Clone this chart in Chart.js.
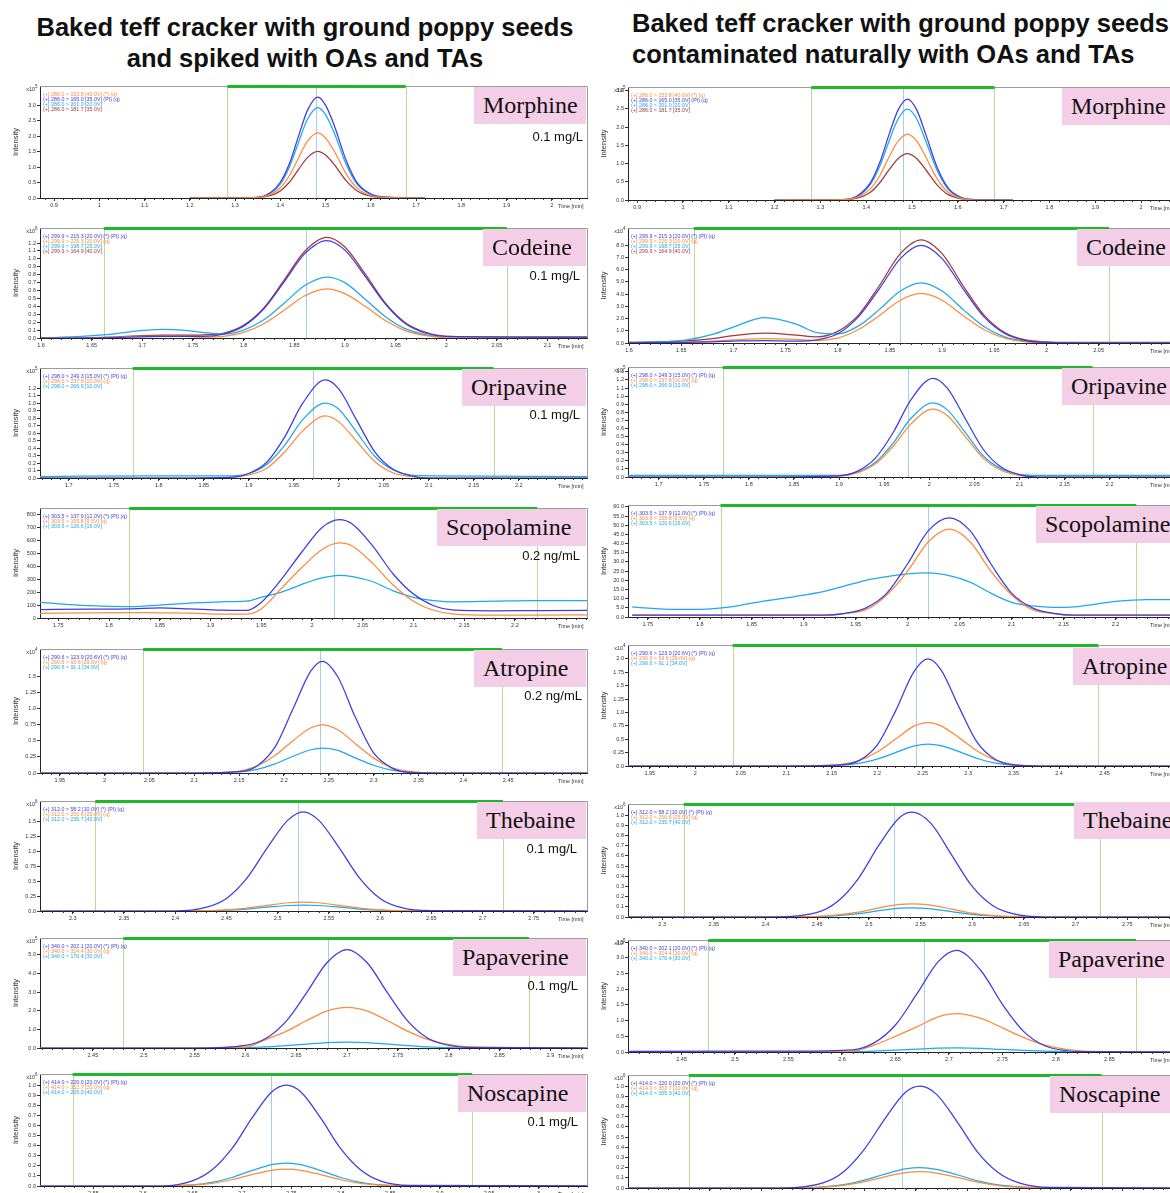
<!DOCTYPE html>
<html><head><meta charset="utf-8">
<script src="https://cdn.jsdelivr.net/npm/chart.js@4.4.1/dist/chart.umd.min.js"></script>
<style>
html,body{margin:0;padding:0;background:#fff;}
body{width:1170px;height:1193px;overflow:hidden;position:relative;font-family:"Liberation Sans",Arial,sans-serif;}
.title{position:absolute;font-weight:bold;font-size:25.5px;color:#111;line-height:31px;white-space:nowrap;}
.name{position:absolute;background:#f4cde6;font-family:"Liberation Serif","Times New Roman",serif;font-size:24px;color:#111;height:37px;line-height:37px;padding-left:9px;box-sizing:border-box;white-space:nowrap;overflow:hidden;z-index:5;}
.conc{position:absolute;font-size:13px;color:#111;white-space:nowrap;z-index:5;transform:translate(-100%,-50%);}
canvas{position:absolute;}
</style></head>
<body>
<div class="title" style="left:0;width:610px;text-align:center;top:12px">Baked teff cracker with ground poppy seeds<br>and spiked with OAs and TAs</div>
<div class="title" style="left:632px;top:8px">Baked teff cracker with ground poppy seeds<br>contaminated naturally with OAs and TAs</div>
<script>
// ================= DATA =================
// S = spiked sample (left column), N = naturally contaminated sample (right column)
// Morphine
const MOR_labels = ["(+) 286.0 > 153.8 [40.0V] (*) (q)","(+) 286.0 > 165.0 [35.0V] (PI) (q)","(+) 286.0 > 201.0 [20.0V]","(+) 286.0 > 181.7 [35.0V]"];
const MOR_xticks = [0.9,1,1.1,1.2,1.3,1.4,1.5,1.6,1.7,1.8,1.9,2];
const MOR_S_yticks = [0,0.5,1,1.5,2,2.5,3];
const MOR_S_time = [1.20,1.34,1.37,1.40,1.42,1.44,1.46,1.483,1.50,1.52,1.545,1.57,1.60,1.63,1.72];
const MOR_S_153 = [0,0.01,0.07,0.33,0.72,1.29,1.84,2.11,1.94,1.50,0.80,0.32,0.08,0.02,0];
const MOR_S_165 = [0,0.01,0.10,0.51,1.11,1.99,2.84,3.27,3.01,2.32,1.24,0.49,0.13,0.03,0];
const MOR_S_201 = [0,0.01,0.09,0.45,1.00,1.79,2.55,2.93,2.70,2.08,1.11,0.44,0.12,0.03,0];
const MOR_S_181 = [0,0.01,0.05,0.23,0.51,0.92,1.31,1.51,1.39,1.07,0.57,0.23,0.06,0.02,0];
const MOR_S_marks = [1.283,1.677,1.48];
const MOR_N_yticks = [0,0.5,1,1.5,2,2.5,3];
const MOR_N_time = [1.20,1.35,1.38,1.41,1.43,1.45,1.47,1.49,1.51,1.53,1.555,1.58,1.61,1.64,1.72];
const MOR_N_153 = [0,0.01,0.07,0.32,0.68,1.18,1.62,1.81,1.62,1.18,0.58,0.20,0.04,0,0];
const MOR_N_165 = [0,0.01,0.11,0.49,1.04,1.80,2.48,2.77,2.48,1.80,0.89,0.31,0.06,0.01,0];
const MOR_N_201 = [0,0.01,0.09,0.44,0.94,1.62,2.23,2.49,2.23,1.62,0.80,0.28,0.05,0.01,0];
const MOR_N_181 = [0,0.01,0.05,0.22,0.48,0.83,1.14,1.27,1.14,0.83,0.41,0.14,0.03,0,0];
const MOR_N_marks = [1.28,1.68,1.48];
// Codeine
const COD_labels = ["(+) 299.9 > 215.3 [20.0V] (*) (PI) (q)","(+) 299.9 > 225.3 [20.0V] (q)","(+) 299.9 > 198.7 [25.0V]","(+) 299.9 > 164.9 [40.0V]"];
const COD_S_xticks = [1.6,1.65,1.7,1.75,1.8,1.85,1.9,1.95,2,2.05,2.1];
const COD_S_yticks = [0,0.1,0.2,0.3,0.4,0.5,0.6,0.7,0.8,0.9,1.0,1.1,1.2];
const COD_S_time = [1.60,1.64,1.67,1.70,1.72,1.74,1.76,1.78,1.80,1.82,1.84,1.86,1.882,1.90,1.92,1.94,1.96,1.98,2.00,2.14];
const COD_S_215 = [0,0,0.005,0.015,0.02,0.02,0.02,0.05,0.15,0.37,0.71,1.06,1.23,1.11,0.78,0.43,0.18,0.06,0.02,0.01];
const COD_S_225 = [0,0,0.01,0.02,0.02,0.02,0.01,0.02,0.07,0.18,0.35,0.53,0.62,0.56,0.40,0.22,0.09,0.03,0.01,0.01];
const COD_S_198 = [0,0.02,0.05,0.095,0.11,0.10,0.07,0.05,0.10,0.23,0.44,0.66,0.77,0.70,0.49,0.27,0.115,0.04,0.01,0.01];
const COD_S_164 = [0,0,0.01,0.03,0.035,0.035,0.04,0.06,0.16,0.38,0.73,1.09,1.27,1.15,0.81,0.44,0.19,0.07,0.02,0.01];
const COD_S_marks = [1.662,2.06,1.862];
const COD_N_xticks = [1.6,1.65,1.7,1.75,1.8,1.85,1.9,1.95,2,2.05];
const COD_N_yticks = [0,1,2,3,4,5,6,7,8];
const COD_N_time = [1.60,1.65,1.68,1.70,1.73,1.76,1.78,1.80,1.82,1.84,1.86,1.88,1.90,1.92,1.94,1.96,1.98,2.00,2.02,2.13];
const COD_N_215 = [0.02,0.05,0.1,0.15,0.2,0.15,0.25,0.75,2.15,4.45,6.9,7.97,6.9,4.45,2.15,0.77,0.2,0.05,0.02,0.02];
const COD_N_225 = [0.02,0.05,0.15,0.25,0.35,0.3,0.2,0.4,1.1,2.25,3.5,4.05,3.5,2.25,1.1,0.4,0.1,0.05,0.02,0.02];
const COD_N_198 = [0.05,0.2,0.7,1.3,2.08,1.55,0.85,0.75,1.4,2.75,4.25,4.92,4.25,2.75,1.35,0.5,0.15,0.05,0.02,0.02];
const COD_N_164 = [0.05,0.15,0.35,0.6,0.8,0.65,0.5,0.95,2.3,4.7,7.3,8.43,7.3,4.7,2.3,0.85,0.25,0.1,0.05,0.05];
const COD_N_marks = [1.662,2.06,1.86];
// Oripavine
const ORI_labels = ["(+) 298.0 > 249.3 [15.0V] (*) (PI) (q)","(+) 298.0 > 237.8 [10.0V] (q)","(+) 298.0 > 266.9 [10.0V]"];
const ORI_xticks = [1.7,1.75,1.8,1.85,1.9,1.95,2,2.05,2.1,2.15,2.2];
const ORI_S_yticks = [0,0.1,0.2,0.3,0.4,0.5,0.6,0.7,0.8,0.9,1.0,1.1,1.2];
const ORI_S_time = [1.668,1.80,1.88,1.90,1.92,1.94,1.96,1.985,2.00,2.02,2.04,2.06,2.08,2.10,2.277];
const ORI_S_249 = [0,0,0.01,0.06,0.21,0.55,1.0,1.31,1.19,0.77,0.35,0.12,0.03,0,0];
const ORI_S_237 = [0,0,0.01,0.04,0.13,0.35,0.63,0.83,0.75,0.49,0.22,0.07,0.02,0,0];
const ORI_S_266 = [0.02,0.03,0.03,0.06,0.18,0.44,0.78,1.0,0.92,0.61,0.29,0.11,0.04,0.03,0.02];
const ORI_S_marks = [1.771,2.172,1.971];
const ORI_N_yticks = [0,0.1,0.2,0.3,0.4,0.5,0.6,0.7,0.8,0.9,1.0,1.1,1.2,1.3];
const ORI_N_time = [1.666,1.80,1.90,1.92,1.94,1.96,1.98,2.004,2.02,2.04,2.06,2.08,2.10,2.12,2.278];
const ORI_N_249 = [0,0,0.015,0.07,0.23,0.55,0.96,1.22,1.10,0.72,0.34,0.12,0.03,0,0];
const ORI_N_237 = [0,0,0.01,0.05,0.16,0.38,0.66,0.84,0.76,0.50,0.23,0.08,0.02,0,0];
const ORI_N_266 = [0.02,0.02,0.02,0.06,0.18,0.42,0.73,0.915,0.83,0.55,0.26,0.10,0.03,0.02,0.02];
const ORI_N_marks = [1.771,2.181,1.976];
// Scopolamine
const SCO_labels = ["(+) 303.5 > 137.9 [12.0V] (*) (PI) (q)","(+) 303.5 > 155.8 [9.5V] (q)","(+) 303.5 > 120.6 [16.0V]"];
const SCO_xticks = [1.75,1.8,1.85,1.9,1.95,2,2.05,2.1,2.15,2.2];
const SCO_S_yticks = [0,100,200,300,400,500,600,700,800];
const SCO_S_time = [1.732,1.78,1.82,1.85,1.88,1.91,1.935,1.95,1.97,1.99,2.01,2.027,2.04,2.06,2.08,2.10,2.12,2.14,2.18,2.22,2.272];
const SCO_S_137 = [65,68,70,78,70,60,58,120,300,510,700,760,725,555,340,185,95,60,55,57,60];
const SCO_S_155 = [35,40,42,40,38,30,30,70,230,390,530,580,555,420,255,130,60,30,22,22,25];
const SCO_S_120 = [120,95,88,100,115,125,130,160,200,260,310,330,320,280,210,160,135,125,130,135,135];
const SCO_S_marks = [1.82,2.222,2.022];
const SCO_N_yticks = [0,5,10,15,20,25,30,35,40,45,50,55,60];
const SCO_N_time = [1.735,1.77,1.80,1.83,1.86,1.89,1.92,1.94,1.96,1.98,2.00,2.02,2.04,2.06,2.08,2.10,2.12,2.14,2.16,2.20,2.23,2.262];
const SCO_N_137 = [1,1,1,1,1,1,1,2,5,13,29,47,54,47,29,13,5,2,1,1,1,1];
const SCO_N_155 = [1,1,1,1,1,1,1,2,4,12,25,41,47.8,41,25,12,4,2,1,1,1,1];
const SCO_N_120 = [5.5,4.2,4.2,5.5,8.5,11,14,17,20,22,23.5,24,22.5,19,13,8,6,5.2,5.5,8.5,9.5,9.5];
const SCO_N_marks = [1.82,2.22,2.02];
// Atropine
const ATR_labels = ["(+) 290.6 > 123.9 [20.6V] (*) (PI) (q)","(+) 290.6 > 93.6 [29.0V] (q)","(+) 290.6 > 91.1 [34.0V]"];
const ATR_xticks = [1.95,2,2.05,2.1,2.15,2.2,2.25,2.3,2.35,2.4,2.45];
const ATR_S_yticks = [0,0.25,0.5,0.75,1.0,1.25,1.5];
const ATR_S_time = [1.928,2.10,2.15,2.17,2.19,2.21,2.23,2.243,2.26,2.28,2.30,2.32,2.34,2.37,2.539];
const ATR_S_123 = [0,0,0.02,0.11,0.40,0.99,1.58,1.73,1.49,0.85,0.31,0.08,0.01,0,0];
const ATR_S_93 = [0,0,0.03,0.11,0.27,0.50,0.70,0.745,0.67,0.45,0.23,0.085,0.024,0,0];
const ATR_S_91 = [0,0,0.017,0.055,0.14,0.26,0.36,0.385,0.35,0.23,0.12,0.044,0.012,0,0];
const ATR_S_marks = [2.043,2.443,2.24];
const ATR_N_yticks = [0,0.25,0.5,0.75,1.0,1.25,1.5,1.75,2.0];
const ATR_N_time = [1.926,2.10,2.16,2.18,2.20,2.22,2.24,2.256,2.27,2.29,2.31,2.33,2.35,2.38,2.533];
const ATR_N_123 = [0,0,0.02,0.10,0.39,1.02,1.75,2.0,1.80,1.10,0.44,0.12,0.02,0,0];
const ATR_N_93 = [0,0,0.03,0.10,0.26,0.50,0.74,0.81,0.75,0.53,0.28,0.11,0.03,0,0];
const ATR_N_91 = [0,0,0.014,0.05,0.13,0.25,0.37,0.41,0.38,0.27,0.14,0.055,0.016,0,0];
const ATR_N_marks = [2.041,2.443,2.243];
// Thebaine
const THE_labels = ["(+) 312.0 > 58.2 [10.0V] (*) (PI) (q)","(+) 312.0 > 250.6 [25.0V] (q)","(+) 312.0 > 235.7 [40.0V]"];
const THE_xticks = [2.3,2.35,2.4,2.45,2.5,2.55,2.6,2.65,2.7,2.75];
const THE_S_yticks = [0,0.25,0.5,0.75,1.0,1.25,1.5];
const THE_S_time = [2.268,2.40,2.43,2.45,2.47,2.49,2.51,2.525,2.54,2.56,2.58,2.60,2.62,2.65,2.803];
const THE_S_58 = [0,0,0.06,0.21,0.55,1.06,1.52,1.66,1.52,1.06,0.55,0.21,0.06,0.005,0];
const THE_S_250 = [0,0,0.006,0.02,0.05,0.096,0.138,0.15,0.138,0.096,0.05,0.02,0.006,0,0];
const THE_S_235 = [0,0,0.004,0.013,0.033,0.064,0.092,0.10,0.092,0.064,0.033,0.013,0.004,0,0];
const THE_S_marks = [2.322,2.72,2.52];
const THE_N_yticks = [0,0.1,0.2,0.3,0.4,0.5,0.6,0.7,0.8,0.9,1.0];
const THE_N_time = [2.267,2.40,2.45,2.47,2.49,2.51,2.53,2.542,2.56,2.58,2.60,2.62,2.64,2.67,2.801];
const THE_N_58 = [0,0,0.046,0.155,0.38,0.71,0.98,1.03,0.92,0.61,0.30,0.11,0.03,0,0];
const THE_N_250 = [0,0,0.006,0.02,0.048,0.09,0.124,0.13,0.116,0.077,0.038,0.014,0.004,0,0];
const THE_N_235 = [0,0,0.004,0.014,0.033,0.062,0.086,0.09,0.08,0.053,0.026,0.01,0.003,0,0];
const THE_N_marks = [2.321,2.724,2.524];
// Papaverine
const PAP_labels = ["(+) 340.0 > 202.1 [20.0V] (*) (PI) (q)","(+) 340.0 > 324.4 [30.0V] (q)","(+) 340.0 > 170.4 [30.0V]"];
const PAP_S_xticks = [2.45,2.5,2.55,2.6,2.65,2.7,2.75,2.8,2.85,2.9];
const PAP_S_yticks = [0,1,2,3,4,5];
const PAP_S_time = [2.398,2.55,2.60,2.62,2.64,2.66,2.68,2.70,2.72,2.74,2.76,2.78,2.80,2.82,2.937];
const PAP_S_202 = [0,0,0.14,0.51,1.43,2.94,4.56,5.28,4.56,2.94,1.43,0.51,0.14,0.03,0];
const PAP_S_324 = [0,0,0.05,0.45,0.89,1.46,1.98,2.18,1.98,1.46,0.89,0.45,0.19,0.06,0];
const PAP_S_170 = [0,0,0.02,0.06,0.13,0.21,0.29,0.32,0.29,0.21,0.13,0.06,0.02,0,0];
const PAP_S_marks = [2.48,2.879,2.681];
const PAP_N_xticks = [2.45,2.5,2.55,2.6,2.65,2.7,2.75,2.8,2.85];
const PAP_N_yticks = [0,0.5,1.0,1.5,2.0,2.5,3.0,3.5];
const PAP_N_time = [2.40,2.55,2.61,2.63,2.65,2.67,2.69,2.707,2.73,2.75,2.77,2.79,2.81,2.83,2.916];
const PAP_N_202 = [0.02,0.03,0.07,0.29,0.86,1.85,2.88,3.24,2.59,1.52,0.65,0.19,0.04,0.01,0];
const PAP_N_324 = [0,0,0.03,0.22,0.50,0.80,1.12,1.22,1.07,0.77,0.46,0.22,0.08,0.02,0];
const PAP_N_170 = [0,0,0.01,0.03,0.06,0.09,0.12,0.13,0.115,0.08,0.05,0.025,0.01,0,0];
const PAP_N_marks = [2.475,2.875,2.677];
// Noscapine
const NOS_labels = ["(+) 414.0 > 220.0 [20.0V] (*) (PI) (q)","(+) 414.0 > 352.7 [20.0V] (q)","(+) 414.0 > 205.3 [40.0V]"];
const NOS_S_xticks = [2.55,2.6,2.65,2.7,2.75,2.8,2.85,2.9,2.95,3];
const NOS_S_yticks = [0,0.1,0.2,0.3,0.4,0.5,0.6,0.7,0.8,0.9,1.0];
const NOS_S_time = [2.496,2.62,2.65,2.67,2.69,2.71,2.73,2.745,2.76,2.78,2.80,2.82,2.84,2.87,3.05];
const NOS_S_220 = [0,0,0.05,0.16,0.37,0.67,0.93,1.0,0.93,0.67,0.37,0.16,0.05,0.005,0];
const NOS_S_352 = [0,0,0.008,0.027,0.062,0.112,0.155,0.167,0.155,0.112,0.062,0.027,0.008,0,0];
const NOS_S_205 = [0,0,0.011,0.036,0.084,0.152,0.211,0.227,0.211,0.152,0.084,0.036,0.011,0,0];
const NOS_S_marks = [2.529,2.933,2.73];
const NOS_N_xticks = [2.55,2.6,2.65,2.7,2.75,2.8,2.85,2.9,2.95];
const NOS_N_yticks = [0,0.1,0.2,0.3,0.4,0.5,0.6,0.7,0.8,0.9,1.0];
const NOS_N_time = [2.471,2.62,2.66,2.68,2.70,2.72,2.74,2.754,2.77,2.79,2.81,2.83,2.85,2.88,3.006];
const NOS_N_220 = [0,0,0.05,0.16,0.38,0.68,0.94,1.0,0.92,0.65,0.35,0.15,0.05,0.005,0];
const NOS_N_352 = [0,0,0.009,0.026,0.062,0.11,0.15,0.16,0.147,0.104,0.057,0.024,0.008,0,0];
const NOS_N_205 = [0,0,0.011,0.033,0.077,0.137,0.188,0.2,0.184,0.13,0.071,0.03,0.01,0,0];
const NOS_N_marks = [2.53,2.93,2.737];

// ================= STYLE / LAYOUT =================
const COL = {b:'#3c3ce0', c:'#1ea8ee', o:'#ff8a3a', r:'#a23838'};
const LEFT = {l:40, r:588}, RIGHT = {l:628, r:1180};
const PANELS = [
 {c:LEFT, top:86, bot:198, x:[0.869,2.08], t:MOR_S_time, s:[[MOR_S_153,'o'],[MOR_S_165,'b'],[MOR_S_201,'c'],[MOR_S_181,'r']], lab:MOR_labels, xt:MOR_xticks, yt:MOR_S_yticks, ymax:3.63, mult:'5', mk:MOR_S_marks, name:'Morphine', box:[474,87], conc:['0.1 mg/L',583,136]},
 {c:RIGHT, top:87, bot:200, x:[0.88,2.085], t:MOR_N_time, s:[[MOR_N_153,'o'],[MOR_N_165,'b'],[MOR_N_201,'c'],[MOR_N_181,'r']], lab:MOR_labels, xt:MOR_xticks, yt:MOR_N_yticks, ymax:3.1, mult:'5', mk:MOR_N_marks, name:'Morphine', box:[1062,88]},
 {c:LEFT, top:228, bot:338, x:[1.599,2.14], t:COD_S_time, s:[[COD_S_215,'b'],[COD_S_225,'o'],[COD_S_198,'c'],[COD_S_164,'r']], lab:COD_labels, xt:COD_S_xticks, yt:COD_S_yticks, ymax:1.39, mult:'6', mk:COD_S_marks, name:'Codeine', box:[483,229], conc:['0.1 mg/L',580,275]},
 {c:RIGHT, top:228, bot:343, x:[1.599,2.128], t:COD_N_time, s:[[COD_N_215,'b'],[COD_N_225,'o'],[COD_N_198,'c'],[COD_N_164,'r']], lab:COD_labels, xt:COD_N_xticks, yt:COD_N_yticks, ymax:9.4, mult:'4', mk:COD_N_marks, name:'Codeine', box:[1077,229]},
 {c:LEFT, top:368, bot:478, x:[1.668,2.277], t:ORI_S_time, s:[[ORI_S_249,'b'],[ORI_S_237,'o'],[ORI_S_266,'c']], lab:ORI_labels, xt:ORI_xticks, yt:ORI_S_yticks, ymax:1.47, mult:'5', mk:ORI_S_marks, name:'Oripavine', box:[462,369], conc:['0.1 mg/L',580,414]},
 {c:RIGHT, top:367, bot:477, x:[1.666,2.278], t:ORI_N_time, s:[[ORI_N_249,'b'],[ORI_N_237,'o'],[ORI_N_266,'c']], lab:ORI_labels, xt:ORI_xticks, yt:ORI_N_yticks, ymax:1.36, mult:'5', mk:ORI_N_marks, name:'Oripavine', box:[1062,368]},
 {c:LEFT, top:508, bot:618, x:[1.732,2.272], t:SCO_S_time, s:[[SCO_S_137,'b'],[SCO_S_155,'o'],[SCO_S_120,'c']], lab:SCO_labels, xt:SCO_xticks, yt:SCO_S_yticks, ymax:850, mult:null, dec:0, mk:SCO_S_marks, name:'Scopolamine', box:[437,509], conc:['0.2 ng/mL',580,555]},
 {c:RIGHT, top:505, bot:617, x:[1.731,2.262], t:SCO_N_time, s:[[SCO_N_137,'b'],[SCO_N_155,'o'],[SCO_N_120,'c']], lab:SCO_labels, xt:SCO_xticks, yt:SCO_N_yticks, ymax:61, mult:null, mk:SCO_N_marks, name:'Scopolamine', box:[1036,506]},
 {c:LEFT, top:649, bot:773, x:[1.928,2.539], t:ATR_S_time, s:[[ATR_S_123,'b'],[ATR_S_93,'o'],[ATR_S_91,'c']], lab:ATR_labels, xt:ATR_xticks, yt:ATR_S_yticks, ymax:1.92, mult:'4', mk:ATR_S_marks, name:'Atropine', box:[474,650], conc:['0.2 ng/mL',582,695]},
 {c:RIGHT, top:645, bot:766, x:[1.926,2.533], t:ATR_N_time, s:[[ATR_N_123,'b'],[ATR_N_93,'o'],[ATR_N_91,'c']], lab:ATR_labels, xt:ATR_xticks, yt:ATR_N_yticks, ymax:2.26, mult:'4', mk:ATR_N_marks, name:'Atropine', box:[1073,648]},
 {c:LEFT, top:801, bot:911, x:[2.268,2.803], t:THE_S_time, s:[[THE_S_58,'b'],[THE_S_250,'o'],[THE_S_235,'c']], lab:THE_labels, xt:THE_xticks, yt:THE_S_yticks, ymax:1.84, mult:'6', mk:THE_S_marks, name:'Thebaine', box:[477,802], conc:['0.1 mg/L',577,848]},
 {c:RIGHT, top:804, bot:917, x:[2.267,2.801], t:THE_N_time, s:[[THE_N_58,'b'],[THE_N_250,'o'],[THE_N_235,'c']], lab:THE_labels, xt:THE_xticks, yt:THE_N_yticks, ymax:1.11, mult:'6', mk:THE_N_marks, name:'Thebaine', box:[1074,802]},
 {c:LEFT, top:938, bot:1048, x:[2.398,2.937], t:PAP_S_time, s:[[PAP_S_202,'b'],[PAP_S_324,'o'],[PAP_S_170,'c']], lab:PAP_labels, xt:PAP_S_xticks, yt:PAP_S_yticks, ymax:5.9, mult:'5', mk:PAP_S_marks, name:'Papaverine', box:[453,939], conc:['0.1 mg/L',578,985]},
 {c:RIGHT, top:940, bot:1052, x:[2.40,2.916], t:PAP_N_time, s:[[PAP_N_202,'b'],[PAP_N_324,'o'],[PAP_N_170,'c']], lab:PAP_labels, xt:PAP_N_xticks, yt:PAP_N_yticks, ymax:3.57, mult:'5', mk:PAP_N_marks, name:'Papaverine', box:[1049,941]},
 {c:LEFT, top:1074, bot:1186, x:[2.496,3.05], t:NOS_S_time, s:[[NOS_S_220,'b'],[NOS_S_352,'o'],[NOS_S_205,'c']], lab:NOS_labels, xt:NOS_S_xticks, yt:NOS_S_yticks, ymax:1.11, mult:'6', mk:NOS_S_marks, name:'Noscapine', box:[458,1075], conc:['0.1 mg/L',578,1121]},
 {c:RIGHT, top:1075, bot:1188, x:[2.471,3.006], t:NOS_N_time, s:[[NOS_N_220,'b'],[NOS_N_352,'o'],[NOS_N_205,'c']], lab:NOS_labels, xt:NOS_N_xticks, yt:NOS_N_yticks, ymax:1.11, mult:'6', mk:NOS_N_marks, name:'Noscapine', box:[1050,1076]}
];

Chart.defaults.font.family = '"Liberation Sans", Arial, sans-serif';
const FF = '"Liberation Sans", Arial, sans-serif';

const chrom = {
  id:'chrom',
  beforeDatasetsDraw(chart, args, o){
    const ctx = chart.ctx, a = chart.chartArea, x = chart.scales.x;
    ctx.save(); ctx.lineWidth = 1;
    const vline=(v,col)=>{const p=Math.round(x.getPixelForValue(v))+0.5; if(p<a.left||p>a.right) return; ctx.strokeStyle=col; ctx.beginPath(); ctx.moveTo(p,a.top); ctx.lineTo(p,a.bottom); ctx.stroke();};
    vline(o.mk[0],'#b9da95'); vline(o.mk[1],'#b9da95'); vline(o.mk[2],'#a6cdee');
    ctx.restore();
  },
  afterDatasetsDraw(chart, args, o){
    const ctx = chart.ctx, a = chart.chartArea, x = chart.scales.x;
    ctx.save();
    ctx.strokeStyle='#9c9c9c'; ctx.lineWidth=1;
    ctx.beginPath(); ctx.moveTo(a.left, a.top+0.5); ctx.lineTo(a.right-0.5, a.top+0.5); ctx.lineTo(a.right-0.5, a.bottom); ctx.stroke();
    const g1 = x.getPixelForValue(o.mk[0]), g2 = Math.min(x.getPixelForValue(o.mk[1]), a.right);
    ctx.fillStyle='#1fb82a'; ctx.fillRect(g1, a.top-1, g2-g1, 3);
    // minor ticks
    const step = (o.xt[1]-o.xt[0])/5;
    ctx.strokeStyle='#333';
    const i0 = Math.ceil((x.min-o.xt[0])/step), i1 = Math.floor((x.max-o.xt[0])/step);
    ctx.beginPath();
    for(let i=i0;i<=i1;i++){const p=Math.round(x.getPixelForValue(o.xt[0]+i*step))+0.5; ctx.moveTo(p,a.bottom); ctx.lineTo(p,a.bottom+2);}
    ctx.stroke();
    // legend texts
    ctx.font='5.3px '+FF; ctx.textBaseline='middle'; ctx.textAlign='left';
    chart.data.datasets.forEach((d,i)=>{ctx.fillStyle=d.borderColor; ctx.fillText(d.label, a.left+3, a.top+9+i*4.7);});
    ctx.fillStyle='#333';
    if(o.mult){ ctx.font='5.5px '+FF; ctx.textAlign='right'; ctx.fillText('x10', a.left-5, a.top+3); ctx.font='4.5px '+FF; ctx.textAlign='left'; ctx.fillText(o.mult, a.left-5, a.top+0.5); }
    ctx.save(); ctx.translate(a.left-24, (a.top+a.bottom)/2); ctx.rotate(-Math.PI/2);
    ctx.font='7.5px '+FF; ctx.textAlign='center'; ctx.fillText('Intensity',0,0); ctx.restore();
    ctx.font='5.5px '+FF; ctx.textAlign='left'; ctx.fillText('Time [min]', a.right-30, a.bottom+8);
    ctx.restore();
  }
};

function fmtY(dec){ return v => { if(dec===0) return String(Math.round(v)); const r=Math.round(v*100)/100; return (Math.abs(r*10-Math.round(r*10))<1e-9) ? r.toFixed(1) : String(r); }; }

PANELS.forEach(p=>{
  const W = p.c.r - p.c.l + 40, H = p.bot - p.top + 6 + 12;
  const cv = document.createElement('canvas');
  cv.width = W; cv.height = H;
  cv.style.left = (p.c.l-40)+'px'; cv.style.top = (p.top-6)+'px';
  cv.style.width = W+'px'; cv.style.height = H+'px';
  document.body.appendChild(cv);
  new Chart(cv, {
    type:'line',
    data:{datasets: p.s.map((s,i)=>({label:p.lab[i], data:p.t.map((tv,k)=>({x:tv,y:s[0][k]})), borderColor:COL[s[1]], borderWidth:1.25, pointRadius:0, fill:false, cubicInterpolationMode:'monotone'}))},
    options:{
      responsive:false, devicePixelRatio:1, animation:false, events:[],
      layout:{padding:{top:6,left:0,right:0,bottom:0}},
      plugins:{legend:{display:false}, tooltip:{enabled:false}, chrom:{mk:p.mk, xt:p.xt, mult:p.mult}},
      scales:{
        x:{type:'linear', min:p.x[0], max:p.x[1],
           afterBuildTicks:s=>{s.ticks=p.xt.map(v=>({value:v}));},
           afterFit:s=>{s.height=12;},
           ticks:{font:{size:5.5}, color:'#333', padding:1, maxRotation:0, autoSkip:false, callback:v=>String(+(+v).toFixed(2))},
           grid:{display:true, drawOnChartArea:false, tickLength:3, color:'#333'},
           border:{color:'#222'}},
        y:{type:'linear', min:0, max:p.ymax,
           afterBuildTicks:s=>{s.ticks=p.yt.map(v=>({value:v}));},
           afterFit:s=>{s.width=40;},
           ticks:{font:{size:5.5}, color:'#333', padding:1, autoSkip:false, callback:fmtY(p.dec===0?0:1)},
           grid:{display:true, drawOnChartArea:false, tickLength:3, color:'#333'},
           border:{color:'#222'}}
      }
    },
    plugins:[chrom]
  });
  const nb = document.createElement('div');
  nb.className='name'; nb.textContent=p.name;
  const rEdge = p.c===LEFT ? 586 : 1180;
  nb.style.left=p.box[0]+'px'; nb.style.top=p.box[1]+'px'; nb.style.width=(rEdge-p.box[0])+'px';
  document.body.appendChild(nb);
  if(p.conc){
    const cd=document.createElement('div'); cd.className='conc'; cd.textContent=p.conc[0];
    cd.style.left=p.conc[1]+'px'; cd.style.top=p.conc[2]+'px';
    document.body.appendChild(cd);
  }
});
</script>
</body></html>
